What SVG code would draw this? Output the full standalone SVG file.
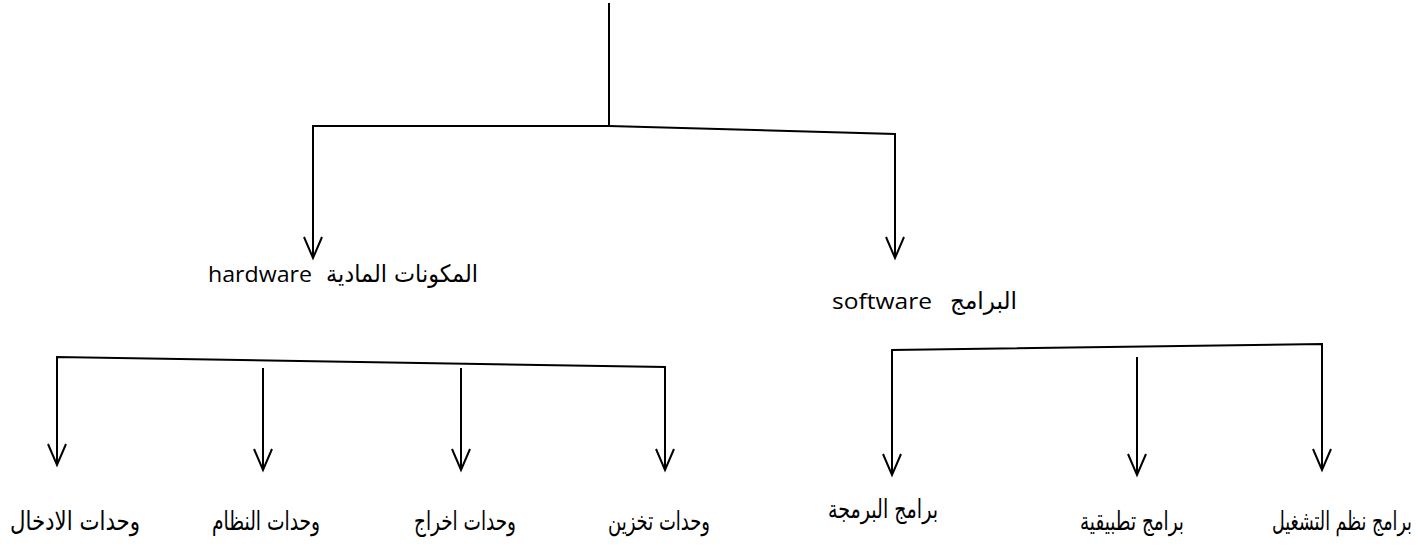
<svg xmlns="http://www.w3.org/2000/svg" width="1418" height="557" viewBox="0 0 1418 557">
<style>
.ln{fill:none;stroke:#000;stroke-width:2}
.ar{fill:none;stroke:#000;stroke-width:2;marker-end:url(#v)}
.t{font-family:"DejaVu Sans","Liberation Sans",sans-serif;font-size:26px;fill:#000;text-anchor:middle;white-space:pre}
.h{font-family:"DejaVu Sans","Liberation Sans",sans-serif;font-size:24px;fill:#000;white-space:pre}
.l{font-family:"Open Sans","Noto Sans",sans-serif;font-size:22px;fill:#000;white-space:pre}
</style>
<defs>
<marker id="v" markerUnits="userSpaceOnUse" markerWidth="24" markerHeight="24" viewBox="-12 -22 24 24" refX="0" refY="0" orient="auto-start-reverse" overflow="visible">
<path d="M-9,-21 L0,0 L9,-21" transform="rotate(-90)" fill="none" stroke="#000" stroke-width="2"/>
</marker>
</defs>
<g id="connectors">
<path class="ln" d="M609,3 V126"/>
<path class="ln" d="M313,140 V126 H609 L895,134 V140"/>
<path class="ar" d="M313,140 V258"/>
<path class="ar" d="M895,140 V258"/>
<path class="ln" d="M57,370 V357 L665,367 V372"/>
<path class="ar" d="M57,370 V465"/>
<path class="ar" d="M263,368 V470"/>
<path class="ar" d="M461,368 V470"/>
<path class="ar" d="M665,372 V470"/>
<path class="ln" d="M892,360 V350 L1322,344 V355"/>
<path class="ar" d="M892,360 V475"/>
<path class="ar" d="M1137,357 V475"/>
<path class="ar" d="M1322,355 V470"/>
</g>
<g id="hardware">
<text class="l" x="208" y="282" textLength="104" lengthAdjust="spacingAndGlyphs">hardware</text>
<text class="h" x="326" y="282" textLength="152" lengthAdjust="spacingAndGlyphs">المكونات المادية</text>
</g>
<g id="software">
<text class="l" x="832" y="309" textLength="100" lengthAdjust="spacingAndGlyphs">software</text>
<text class="h" x="950" y="309" textLength="67" lengthAdjust="spacingAndGlyphs">البرامج</text>
</g>
<g id="input"><text class="t" x="75" y="530" textLength="130" lengthAdjust="spacingAndGlyphs">وحدات الادخال</text></g>
<g id="system"><text class="t" x="266" y="530" textLength="108" lengthAdjust="spacingAndGlyphs">وحدات النظام</text></g>
<g id="output"><text class="t" x="465" y="530" textLength="102" lengthAdjust="spacingAndGlyphs">وحدات اخراج</text></g>
<g id="storage"><text class="t" x="659" y="530" textLength="102" lengthAdjust="spacingAndGlyphs">وحدات تخزين</text></g>
<g id="programming"><text class="t" x="883" y="518" textLength="110" lengthAdjust="spacingAndGlyphs">برامج البرمجة</text></g>
<g id="applications"><text class="t" x="1132" y="530" textLength="104" lengthAdjust="spacingAndGlyphs">برامج تطبيقية</text></g>
<g id="os"><text class="t" transform="translate(1342,530) scale(0.66,1)" x="0" y="0" textLength="212" lengthAdjust="spacingAndGlyphs">برامج نظم التشغيل</text></g>
</svg>
